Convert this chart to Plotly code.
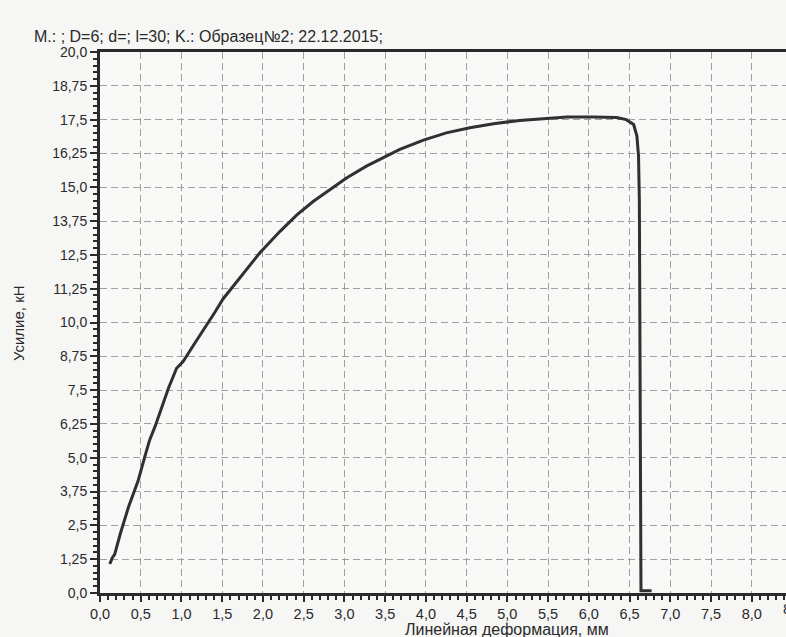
import plotly.graph_objects as go

# Data
deformation_mm = [0.12, 0.15, 0.18, 0.25, 0.35, 0.47, 0.55, 0.61, 0.675, 0.76, 0.84, 0.94,
                  1.02, 1.165, 1.29, 1.41, 1.51, 1.76, 1.96, 2.21, 2.42, 2.62, 2.82, 3.03,
                  3.27, 3.50, 3.68, 3.97, 4.25, 4.54, 4.83, 5.15, 5.48, 5.73, 6.05, 6.34,
                  6.46, 6.55, 6.59, 6.61, 6.62, 6.63, 6.64, 6.77]
force_kn = [1.07, 1.30, 1.43, 2.2, 3.18, 4.17, 5.04, 5.66, 6.15, 6.89, 7.57, 8.31,
            8.56, 9.24, 9.80, 10.38, 10.87, 11.83, 12.57, 13.37, 13.99, 14.48, 14.91, 15.35,
            15.78, 16.12, 16.40, 16.74, 17.01, 17.2, 17.35, 17.47, 17.54, 17.6, 17.6, 17.58,
            17.5, 17.32, 16.89, 16.15, 14.54, 5.0, 0.08, 0.08]

x_tickvals = [0.0, 0.5, 1.0, 1.5, 2.0, 2.5, 3.0, 3.5, 4.0, 4.5, 5.0, 5.5, 6.0, 6.5, 7.0, 7.5, 8.0]
x_ticktext = ["0,0", "0,5", "1,0", "1,5", "2,0", "2,5", "3,0", "3,5", "4,0", "4,5", "5,0",
              "5,5", "6,0", "6,5", "7,0", "7,5", "8,0"]
y_tickvals = [0.0, 1.25, 2.5, 3.75, 5.0, 6.25, 7.5, 8.75, 10.0, 11.25, 12.5, 13.75, 15.0,
              16.25, 17.5, 18.75, 20.0]
y_ticktext = ["0,0", "1,25", "2,5", "3,75", "5,0", "6,25", "7,5", "8,75", "10,0", "11,25",
              "12,5", "13,75", "15,0", "16,25", "17,5", "18,75", "20,0"]

title_text = "M.: ; D=6; d=; l=30; K.: Образец№2; 22.12.2015;"
x_title = "Линейная деформация, мм"
y_title = "Усилие, кН"
cut_label = "8,5"

FONT = "Liberation Sans, Arial, sans-serif"
INK = "#2a2a2a"

fig = go.Figure()
fig.add_trace(go.Scatter(x=deformation_mm, y=force_kn, mode="lines",
                         line=dict(color="#303030", width=3), showlegend=False,
                         hoverinfo="skip"))

fig.update_layout(
    width=786, height=637,
    margin=dict(l=100, r=0, t=52, b=44, autoexpand=False),
    paper_bgcolor="#f6f6f5", plot_bgcolor="#f8f8f7",
    font=dict(family=FONT, color=INK),
    showlegend=False,
)

fig.update_xaxes(
    range=[0, 8.42], tickmode="array", tickvals=x_tickvals, ticktext=x_ticktext,
    tickfont=dict(size=14.5, color=INK), ticks="outside", ticklen=6, tickwidth=2,
    tickcolor=INK, showline=True, linecolor=INK, linewidth=3, mirror=True,
    showgrid=True, gridcolor="#a0a0a0", gridwidth=1, griddash="7px,4px",
    zeroline=False, automargin=False,
    minor=dict(tickmode="linear", tick0=0, dtick=0.1, ticks="outside", ticklen=4,
               tickwidth=1.5, tickcolor=INK, showgrid=False),
)
fig.update_yaxes(
    range=[0, 20], tickmode="array", tickvals=y_tickvals, ticktext=y_ticktext,
    tickfont=dict(size=14, color=INK), ticks="outside", ticklen=7, tickwidth=2,
    tickcolor=INK, showline=True, linecolor=INK, linewidth=3,
    showgrid=True, gridcolor="#a0a0a0", gridwidth=1, griddash="7px,4px",
    zeroline=False, automargin=False,
    minor=dict(tickmode="linear", tick0=0, dtick=0.25, ticks="outside", ticklen=4,
               tickwidth=1.5, tickcolor=INK, showgrid=False),
)

fig.add_annotation(text=title_text, xref="paper", yref="paper",
                   x=-0.0977, y=1.029, xanchor="left", yanchor="middle",
                   showarrow=False, borderpad=0,
                   font=dict(size=16, color=INK, family=FONT))
fig.add_annotation(text=y_title, xref="paper", yref="paper", textangle=-90,
                   x=-0.1195, y=0.499, xanchor="center", yanchor="middle",
                   showarrow=False, font=dict(size=15, color=INK, family=FONT))
fig.add_annotation(text=x_title, xref="paper", yref="paper",
                   x=(5.0 / 8.42), y=-0.0671, xanchor="center", yanchor="middle",
                   showarrow=False, borderpad=0,
                   font=dict(size=16, color=INK, family=FONT))
fig.add_annotation(text=cut_label, xref="paper", yref="paper",
                   x=(8.5 / 8.42), y=-0.0295, xanchor="center", yanchor="middle",
                   showarrow=False, font=dict(size=14.5, color=INK, family=FONT))

fig.write_html("out.html", config={"displayModeBar": False},
               post_script="document.body.style.margin='0';"
                           "document.body.style.overflow='hidden';")
